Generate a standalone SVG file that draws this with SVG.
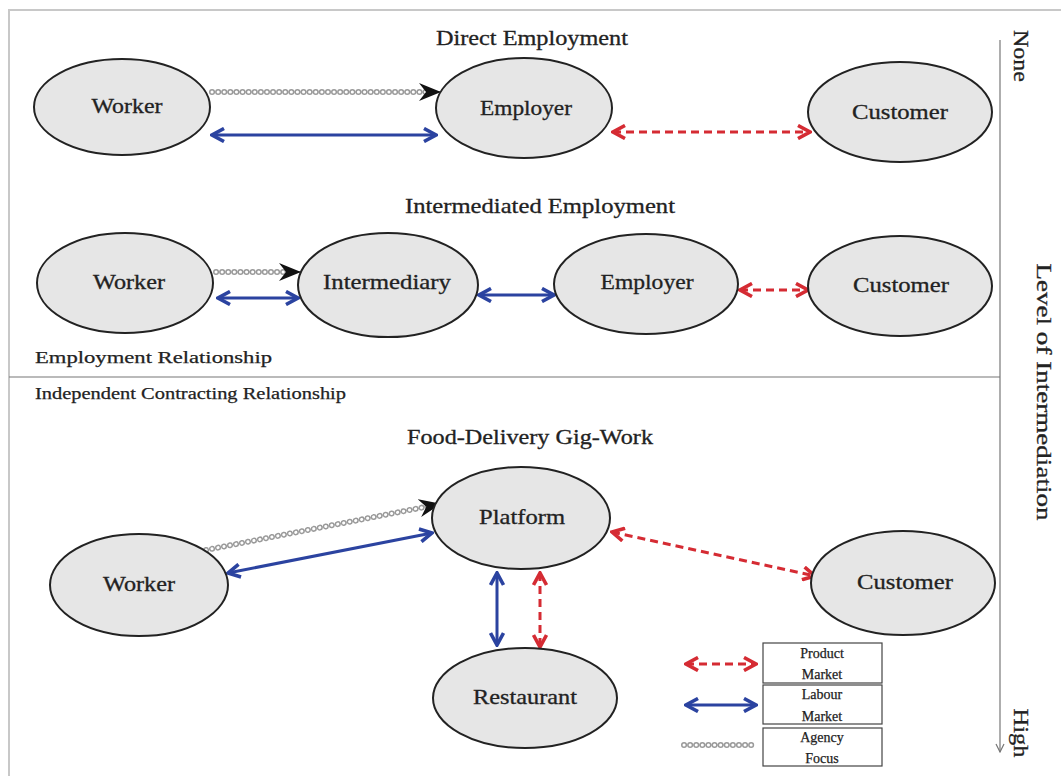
<svg xmlns="http://www.w3.org/2000/svg" width="1061" height="776" viewBox="0 0 1061 776">
<style>
.node{fill:#e6e6e6;stroke:#222;stroke-width:2}
.lbl{font-family:"Liberation Serif","DejaVu Serif",serif;font-size:21px;fill:#222;text-anchor:middle;stroke:#222;stroke-width:0.3}
.title{font-family:"Liberation Serif","DejaVu Serif",serif;font-size:21px;fill:#222;text-anchor:middle;stroke:#222;stroke-width:0.3}
.small{font-family:"Liberation Serif","DejaVu Serif",serif;font-size:17px;fill:#222;stroke:#222;stroke-width:0.25}
.leg{font-family:"Liberation Serif","DejaVu Serif",serif;font-size:14px;fill:#222;text-anchor:middle;stroke:#222;stroke-width:0.25}
.blue{stroke:#2b43a0;stroke-width:3;fill:none;marker-start:url(#bh);marker-end:url(#bh)}
.red{stroke:#d52b33;stroke-width:3;fill:none;stroke-dasharray:8 5;marker-start:url(#rh);marker-end:url(#rh)}
.chainA{stroke:#9a9a9a;stroke-width:6;fill:none;stroke-linecap:round;stroke-dasharray:0.1 6}
.chainB{stroke:#fff;stroke-width:3;fill:none;stroke-linecap:round;stroke-dasharray:0.1 6}
.frame{stroke:#c8c8c8;stroke-width:2;fill:none}
.box{fill:#fff;stroke:#444;stroke-width:1.2}
</style>
<defs>
<marker id="bh" viewBox="0 0 16 16" refX="14" refY="8" markerWidth="16" markerHeight="16" markerUnits="userSpaceOnUse" orient="auto-start-reverse">
<path d="M2,1.5 L14,8 L2,14.5" fill="none" stroke="#2b43a0" stroke-width="3.6"/>
</marker>
<marker id="rh" viewBox="0 0 16 16" refX="14" refY="8" markerWidth="16" markerHeight="16" markerUnits="userSpaceOnUse" orient="auto-start-reverse">
<path d="M2,1.5 L14,8 L2,14.5" fill="none" stroke="#d52b33" stroke-width="3.6"/>
</marker>
<marker id="kh" viewBox="0 0 22 18" refX="21" refY="9" markerWidth="22" markerHeight="18" markerUnits="userSpaceOnUse" orient="auto">
<path d="M0,0 L22,9 L0,18 L7,9 z" fill="#111"/>
</marker>
<marker id="ah" viewBox="0 0 10 10" refX="9" refY="5" markerWidth="10" markerHeight="10" markerUnits="userSpaceOnUse" orient="auto">
<path d="M1,1 L9,5 L1,9" fill="none" stroke="#777" stroke-width="1.2"/>
</marker>
</defs>
<rect width="1061" height="776" fill="#fff"/>
<g id="frame">
<path class="frame" d="M9,776 L9,10 L1061,10"/>
<line x1="9" y1="377" x2="1000" y2="377" stroke="#777" stroke-width="1.2"/>
<line x1="1000" y1="40" x2="1000" y2="752" stroke="#777" stroke-width="1.2" marker-end="url(#ah)"/>
</g>
<g id="labels">
<text class="title" x="532" y="45" textLength="192" lengthAdjust="spacingAndGlyphs">Direct Employment</text>
<text class="title" x="540" y="213" textLength="270" lengthAdjust="spacingAndGlyphs">Intermediated Employment</text>
<text class="title" x="530" y="444" textLength="246" lengthAdjust="spacingAndGlyphs">Food-Delivery Gig-Work</text>
<text class="small" x="35" y="363" textLength="237" lengthAdjust="spacingAndGlyphs">Employment Relationship</text>
<text class="small" x="35" y="399" textLength="311" lengthAdjust="spacingAndGlyphs">Independent Contracting Relationship</text>
<text class="title" transform="translate(1014,56) rotate(90)" textLength="52" lengthAdjust="spacingAndGlyphs">None</text>
<text class="title" transform="translate(1037,392) rotate(90)" textLength="257" lengthAdjust="spacingAndGlyphs">Level of Intermediation</text>
<text class="title" transform="translate(1014,733) rotate(90)" textLength="49" lengthAdjust="spacingAndGlyphs">High</text>
</g>
<g id="connectors">
<path class="chainA" d="M212,92 L432,92"/><path class="chainB" d="M212,92 L432,92"/>
<line x1="432" y1="92" x2="440" y2="92" stroke="#111" stroke-width="1" marker-end="url(#kh)"/>
<line class="blue" x1="212" y1="135" x2="436" y2="135"/>
<line class="red" x1="613" y1="132" x2="810" y2="132"/>
<path class="chainA" d="M216,272 L290,272"/><path class="chainB" d="M216,272 L290,272"/>
<line x1="290" y1="272" x2="300" y2="272" stroke="#111" stroke-width="1" marker-end="url(#kh)"/>
<line class="blue" x1="218" y1="298" x2="298" y2="298"/>
<line class="blue" x1="479" y1="295" x2="554" y2="295"/>
<line class="red" x1="740" y1="290" x2="808" y2="290"/>
<path class="chainA" d="M206,550 L430,506"/><path class="chainB" d="M206,550 L430,506"/>
<line x1="430" y1="506" x2="440" y2="504" stroke="#111" stroke-width="1" marker-end="url(#kh)"/>
<line class="blue" x1="228" y1="573" x2="432" y2="533"/>
<line class="red" x1="612" y1="532" x2="815" y2="576"/>
<line class="blue" x1="497" y1="573" x2="497" y2="645"/>
<line class="red" x1="540" y1="573" x2="540" y2="647"/>
</g>
<g id="n-worker1"><ellipse class="node" cx="122" cy="107" rx="88" ry="48"/><text class="lbl" x="127" y="113" textLength="71" lengthAdjust="spacingAndGlyphs">Worker</text></g>
<g id="n-employer1"><ellipse class="node" cx="524" cy="108" rx="88" ry="50"/><text class="lbl" x="526" y="115" textLength="92" lengthAdjust="spacingAndGlyphs">Employer</text></g>
<g id="n-customer1"><ellipse class="node" cx="900" cy="112" rx="92" ry="50"/><text class="lbl" x="900" y="119" textLength="96" lengthAdjust="spacingAndGlyphs">Customer</text></g>
<g id="n-worker2"><ellipse class="node" cx="125" cy="283" rx="88" ry="50"/><text class="lbl" x="129" y="289" textLength="72" lengthAdjust="spacingAndGlyphs">Worker</text></g>
<g id="n-intermediary"><ellipse class="node" cx="388" cy="285" rx="90" ry="52"/><text class="lbl" x="387" y="289" textLength="128" lengthAdjust="spacingAndGlyphs">Intermediary</text></g>
<g id="n-employer2"><ellipse class="node" cx="646" cy="284" rx="92" ry="50"/><text class="lbl" x="647" y="289" textLength="93" lengthAdjust="spacingAndGlyphs">Employer</text></g>
<g id="n-customer2"><ellipse class="node" cx="900" cy="286" rx="92" ry="50"/><text class="lbl" x="901" y="292" textLength="96" lengthAdjust="spacingAndGlyphs">Customer</text></g>
<g id="n-platform"><ellipse class="node" cx="521" cy="518" rx="89" ry="51"/><text class="lbl" x="522" y="524" textLength="86" lengthAdjust="spacingAndGlyphs">Platform</text></g>
<g id="n-worker3"><ellipse class="node" cx="139" cy="585" rx="89" ry="51"/><text class="lbl" x="139" y="591" textLength="72" lengthAdjust="spacingAndGlyphs">Worker</text></g>
<g id="n-customer3"><ellipse class="node" cx="903" cy="583" rx="92" ry="52"/><text class="lbl" x="905" y="589" textLength="96" lengthAdjust="spacingAndGlyphs">Customer</text></g>
<g id="n-restaurant"><ellipse class="node" cx="525" cy="698" rx="92" ry="50"/><text class="lbl" x="525" y="704" textLength="104" lengthAdjust="spacingAndGlyphs">Restaurant</text></g>
<g id="legend">
<line class="red" x1="686" y1="664" x2="756" y2="664"/>
<line class="blue" x1="686" y1="705" x2="756" y2="705"/>
<path class="chainA" d="M684,745 L757,745"/><path class="chainB" d="M684,745 L757,745"/>
<rect class="box" x="763" y="643" width="119" height="40"/>
<rect class="box" x="763" y="685" width="119" height="39"/>
<rect class="box" x="763" y="728" width="119" height="38"/>
<text class="leg" x="822" y="658">Product</text><text class="leg" x="822" y="679">Market</text>
<text class="leg" x="822" y="699">Labour</text><text class="leg" x="822" y="721">Market</text>
<text class="leg" x="822" y="742">Agency</text><text class="leg" x="822" y="763">Focus</text>
</g>
</svg>
